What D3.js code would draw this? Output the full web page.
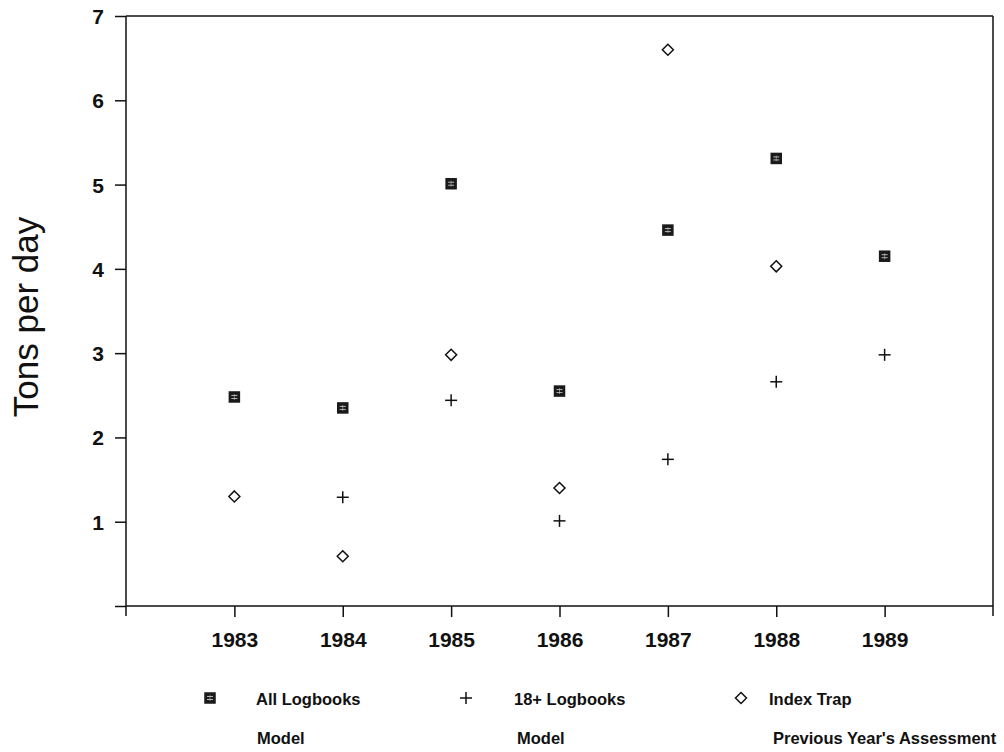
<!DOCTYPE html>
<html>
<head>
<meta charset="utf-8">
<script src="https://cdn.jsdelivr.net/npm/d3@7"></script>
<style>
  html, body { margin: 0; padding: 0; background: #fff; }
  svg { display: block; }
  text { font-family: "Liberation Sans", Arial, Helvetica, sans-serif; fill: #111; }
</style>
</head>
<body>
<svg id="chart" width="1004" height="752"></svg>
<script>
// Survey years on the horizontal axis
const years = [1983, 1984, 1985, 1986, 1987, 1988, 1989];

// Catch rate estimates (tons per day)
const allLogbooks = [2.48, 2.35, 5.01, 2.55, 4.46, 5.31, 4.15];
const logbooks18 = [null, 1.29, 2.44, 1.01, 1.74, 2.66, 2.98];
const indexTrap = [1.30, 0.59, 2.98, 1.40, 6.60, 4.03, null];

// Axis tick values
const yTicks = [1, 2, 3, 4, 5, 6, 7];
const xTicks = years;

// Legend entries
const legendNames = ["All Logbooks", "18+ Logbooks", "Index Trap"];
const legendSub = ["Model", "Model", "Previous Year's Assessment"];

const svg = d3.select("#chart");
const plotLeft = 126, plotRight = 993, plotTop = 16, plotBottom = 606;

const x = d3.scaleLinear().domain([1982, 1990]).range([plotLeft, plotRight]);
const y = d3.scaleLinear().domain([0, 7]).range([plotBottom, plotTop]);

const ink = "#111";

// Frame: top and right edges
svg.append("line").attr("x1", plotLeft).attr("x2", plotRight).attr("y1", plotTop).attr("y2", plotTop)
  .attr("stroke", ink).attr("stroke-width", 1.5);
svg.append("line").attr("x1", plotRight).attr("x2", plotRight).attr("y1", plotTop).attr("y2", plotBottom + 10)
  .attr("stroke", ink).attr("stroke-width", 1.5);

// Left axis
const yAxis = d3.axisLeft(y).tickValues([0].concat(yTicks)).tickSize(11).tickPadding(11)
  .tickFormat(d => d === 0 ? "" : d3.format("d")(d));
const gy = svg.append("g").attr("transform", `translate(${plotLeft},0)`).call(yAxis);
gy.select(".domain").remove();
gy.selectAll(".tick line").attr("stroke", ink).attr("stroke-width", 1.5);
gy.selectAll(".tick text").attr("font-size", 21).attr("font-weight", "bold").attr("fill", ink)
  .attr("dy", "0.36em");
svg.append("line").attr("x1", plotLeft).attr("x2", plotLeft).attr("y1", plotTop).attr("y2", plotBottom + 10)
  .attr("stroke", ink).attr("stroke-width", 1.5);

// Bottom axis
const xAxis = d3.axisBottom(x).tickValues(xTicks).tickSize(11).tickPadding(15)
  .tickFormat(d3.format("d"));
const gx = svg.append("g").attr("transform", `translate(0,${plotBottom})`).call(xAxis);
gx.select(".domain").remove();
gx.selectAll(".tick line").attr("stroke", ink).attr("stroke-width", 1.5);
gx.selectAll(".tick text").attr("font-size", 21).attr("font-weight", "bold").attr("fill", ink);
svg.append("line").attr("x1", plotLeft).attr("x2", plotRight).attr("y1", plotBottom).attr("y2", plotBottom)
  .attr("stroke", ink).attr("stroke-width", 1.5);

// Y axis title
svg.append("text")
  .attr("transform", `translate(38,${(plotTop + plotBottom) / 2 + 6}) rotate(-90)`)
  .attr("text-anchor", "middle")
  .attr("font-size", 35)
  .text("Tons per day");

// Marker drawers
function squareMark(g, cx, cy) {
  const s = 11.5;
  g.append("rect").attr("x", cx - s / 2).attr("y", cy - s / 2).attr("width", s).attr("height", s)
    .attr("fill", "#1a1a1a");
  g.append("line").attr("x1", cx - 3).attr("x2", cx + 3).attr("y1", cy - 1.5).attr("y2", cy - 1.5)
    .attr("stroke", "#ddd").attr("stroke-width", 0.8);
  g.append("line").attr("x1", cx - 3).attr("x2", cx + 3).attr("y1", cy + 1.5).attr("y2", cy + 1.5)
    .attr("stroke", "#ddd").attr("stroke-width", 0.8);
  g.append("line").attr("x1", cx).attr("x2", cx).attr("y1", cy - 3).attr("y2", cy + 3)
    .attr("stroke", "#bbb").attr("stroke-width", 0.6);
}
function plusMark(g, cx, cy) {
  const h = 6;
  g.append("line").attr("x1", cx - h).attr("x2", cx + h).attr("y1", cy).attr("y2", cy)
    .attr("stroke", ink).attr("stroke-width", 1.5);
  g.append("line").attr("x1", cx).attr("x2", cx).attr("y1", cy - h).attr("y2", cy + h)
    .attr("stroke", ink).attr("stroke-width", 1.5);
}
function diamondMark(g, cx, cy) {
  const h = 5.5;
  g.append("path")
    .attr("d", `M${cx},${cy - h}L${cx + h},${cy}L${cx},${cy + h}L${cx - h},${cy}Z`)
    .attr("fill", "none").attr("stroke", ink).attr("stroke-width", 1.5);
}

const series = [
  { values: allLogbooks, draw: squareMark },
  { values: logbooks18, draw: plusMark },
  { values: indexTrap, draw: diamondMark }
];

const marks = svg.append("g");
series.forEach(s => {
  years.forEach((yr, i) => {
    const v = s.values[i];
    if (v == null) return;
    s.draw(marks, x(yr), y(v));
  });
});

// Legend
const legendMarkX = [210, 466, 741];
const legendTextX = [256, 514, 769];
const legendSubX = [257, 517, 773];
const lg = svg.append("g");
series.forEach((s, i) => {
  s.draw(lg, legendMarkX[i], 698);
  lg.append("text").attr("x", legendTextX[i]).attr("y", 705)
    .attr("font-size", 16.5).attr("font-weight", "bold").attr("fill", "#222")
    .text(legendNames[i]);
  lg.append("text").attr("x", legendSubX[i]).attr("y", 744)
    .attr("font-size", 16.5).attr("font-weight", "bold").attr("fill", "#222")
    .text(legendSub[i]);
});
</script>
</body>
</html>
